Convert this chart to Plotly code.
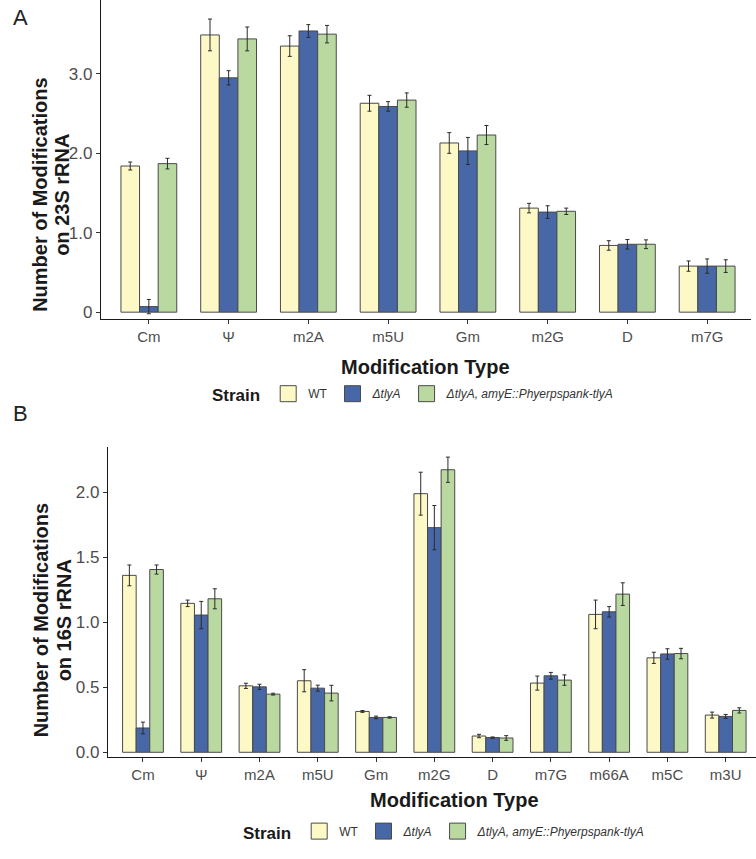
import plotly.graph_objects as go

W, H = 756, 859

# ---------------- data ----------------
strains = ["WT", "<i>ΔtlyA</i>", "<i>ΔtlyA, amyE::Phyerpspank-tlyA</i>"]
colors = ["#FDF9C6", "#4867A6", "#BAD9A1"]

cats_23S = ["Cm", "Ψ", "m2A", "m5U", "Gm", "m2G", "D", "m7G"]
wt_23S = [1.84, 3.49, 3.35, 2.63, 2.13, 1.31, 0.84, 0.58]
wt_err_23S = [0.05, 0.20, 0.13, 0.10, 0.13, 0.06, 0.06, 0.065]
dt_23S = [0.07, 2.95, 3.54, 2.59, 2.03, 1.26, 0.855, 0.58]
dt_err_23S = [0.09, 0.09, 0.08, 0.06, 0.17, 0.08, 0.06, 0.09]
co_23S = [1.87, 3.44, 3.50, 2.67, 2.23, 1.27, 0.855, 0.58]
co_err_23S = [0.067, 0.15, 0.11, 0.09, 0.12, 0.04, 0.055, 0.08]

cats_16S = ["Cm", "Ψ", "m2A", "m5U", "Gm", "m2G", "D", "m7G", "m66A", "m5C", "m3U"]
wt_16S = [1.36, 1.145, 0.511, 0.55, 0.314, 1.988, 0.125, 0.532, 1.06, 0.726, 0.286]
wt_err_16S = [0.08, 0.025, 0.02, 0.085, 0.007, 0.165, 0.013, 0.054, 0.11, 0.043, 0.023]
dt_16S = [0.187, 1.055, 0.503, 0.493, 0.268, 1.727, 0.113, 0.588, 1.08, 0.756, 0.276]
dt_err_16S = [0.045, 0.105, 0.02, 0.023, 0.01, 0.17, 0.005, 0.026, 0.04, 0.04, 0.015]
co_16S = [1.405, 1.18, 0.447, 0.455, 0.268, 2.172, 0.11, 0.555, 1.216, 0.759, 0.322]
co_err_16S = [0.035, 0.077, 0.007, 0.06, 0.005, 0.097, 0.018, 0.04, 0.087, 0.04, 0.02]

yt_23S = [0, 1, 2, 3]
yt_23S_text = ["0", "1.0", "2.0", "3.0"]
yt_16S = [0, 0.5, 1.0, 1.5, 2.0]
yt_16S_text = ["0.0", "0.5", "1.0", "1.5", "2.0"]

FONT = "Arial, 'Liberation Sans', Helvetica, sans-serif"
EDGE = "#4a4a4a"

fig = go.Figure()

def add_panel(cats, series, errs, xa, ya, legend):
    for name, col, vals, err in zip(strains, colors, series, errs):
        fig.add_trace(go.Bar(
            x=cats, y=vals, name=name, xaxis=xa, yaxis=ya, showlegend=False,
            marker=dict(color=col, line=dict(color=EDGE, width=1)),
            error_y=dict(type="data", array=err, visible=True,
                         color="#2b2b2b", thickness=1, width=2),
        ))
    # legend keys (legend-only entries with large square swatches)
    for name, col in zip(strains, colors):
        fig.add_trace(go.Scatter(
            x=[None], y=[None], mode="markers", name=name, xaxis=xa, yaxis=ya,
            legend=legend, hoverinfo="skip",
            marker=dict(symbol="square", size=21, color=col,
                        line=dict(color=EDGE, width=1)),
        ))

add_panel(cats_23S, [wt_23S, dt_23S, co_23S],
          [wt_err_23S, dt_err_23S, co_err_23S], "x", "y", "legend")
add_panel(cats_16S, [wt_16S, dt_16S, co_16S],
          [wt_err_16S, dt_err_16S, co_err_16S], "x2", "y2", "legend2")

def px(x):
    return x / W

def py(y):
    return 1 - y / H

axis_common = dict(showline=True, linecolor="#1a1a1a", linewidth=1.3,
                   ticks="outside", ticklen=4, tickcolor="#333333", tickwidth=1,
                   showgrid=False, zeroline=False, fixedrange=True)

# top panel geometry: 0 -> 314px, 3.0 -> 74.3px, baseline 321px
top_ppu = (314 - 74.3) / 3.0
fig.update_layout(
    xaxis=dict(domain=[px(101), px(751)], range=[-0.6, 7.55], anchor="y",
               tickfont=dict(size=15, color="#4d4d4d", family=FONT), **axis_common),
    yaxis=dict(domain=[py(321), 1.0], anchor="x",
               range=[-(321 - 314) / top_ppu, 314 / top_ppu],
               tickvals=yt_23S, ticktext=yt_23S_text,
               tickfont=dict(size=17, color="#4d4d4d", family=FONT), **axis_common),
)

# bottom panel geometry: 0 -> 756.7px, 2.0 -> 495px, baseline 761.7px
bot_ppu = (756.7 - 495) / 2.0
fig.update_layout(
    xaxis2=dict(domain=[px(108), 1.0], range=[-0.6, 10.52], anchor="y2",
                tickfont=dict(size=15, color="#4d4d4d", family=FONT), **axis_common),
    yaxis2=dict(domain=[py(761.7), py(450)], anchor="x2",
                range=[-(761.7 - 756.7) / bot_ppu, (756.7 - 450) / bot_ppu],
                tickvals=yt_16S, ticktext=yt_16S_text,
                tickfont=dict(size=17, color="#4d4d4d", family=FONT), **axis_common),
)

legend_common = dict(orientation="h", xanchor="left", yanchor="middle",
                     bgcolor="rgba(0,0,0,0)", valign="middle",
                     itemsizing="trace", itemwidth=30,
                     font=dict(size=12, color="#333333", family=FONT),
                     title=dict(text="<b>Strain</b>", side="left",
                                font=dict(size=17, color="#1a1a1a", family=FONT)),
                     itemclick=False, itemdoubleclick=False, traceorder="normal")

fig.update_layout(
    width=W, height=H,
    margin=dict(l=0, r=0, t=0, b=0),
    paper_bgcolor="white", plot_bgcolor="white",
    barmode="group", bargap=0.3, bargroupgap=0,
    font=dict(family=FONT),
    legend=dict(x=px(210), y=py(398), **legend_common),
    legend2=dict(x=px(241), y=py(838), **legend_common),
)

ann = []
def text(x, y, s, size, color="#1a1a1a", angle=0, bold=False):
    ann.append(dict(x=px(x), y=py(y), xref="paper", yref="paper",
                    text=f"<b>{s}</b>" if bold else s, showarrow=False,
                    textangle=angle, xanchor="center", yanchor="middle",
                    font=dict(size=size, color=color, family=FONT)))

text(20, 18, "A", 22, color="#222222")
text(20, 416, "B", 22, color="#222222")
text(40, 196, "Number of Modifications", 20, angle=-90, bold=True)
text(62, 196, "on 23S rRNA", 20, angle=-90, bold=True)
text(41, 624, "Number of Modifications", 20, angle=-90, bold=True)
text(64, 624, "on 16S rRNA", 20, angle=-90, bold=True)
text(425, 369, "Modification Type", 20, bold=True)
text(454, 805, "Modification Type", 20, bold=True)
fig.update_layout(annotations=ann)

fig.write_html("out.html")
